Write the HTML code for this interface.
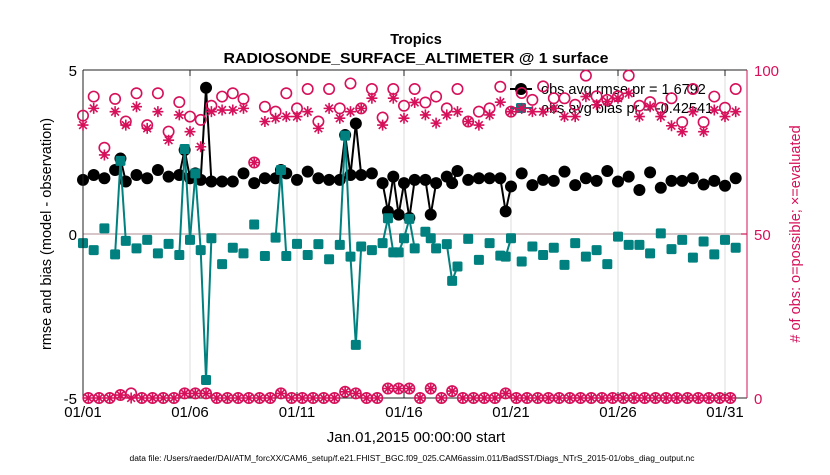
<!DOCTYPE html>
<html><head><meta charset="utf-8"><style>
body{margin:0;background:#fff;}
svg text{font-family:"Liberation Sans",Arial,sans-serif;}
</style></head><body>
<svg id="chart" width="830" height="470" xmlns="http://www.w3.org/2000/svg">
<rect x="0" y="0" width="830" height="470" fill="#fff"/>
<g id="grid"></g>
<g id="marks"></g>
<g id="axes"></g>
<text x="416" y="44" text-anchor="middle" font-size="14.5" font-weight="bold">Tropics</text>
<text x="416" y="63" text-anchor="middle" font-size="14.5" font-weight="bold" textLength="385" lengthAdjust="spacingAndGlyphs">RADIOSONDE_SURFACE_ALTIMETER @ 1 surface</text>
<text x="416" y="442" text-anchor="middle" font-size="15">Jan.01,2015 00:00:00 start</text>
<text transform="translate(51,234) rotate(-90)" text-anchor="middle" font-size="14.5">rmse and bias (model - observation)</text>
<text transform="translate(800,234) rotate(-90)" text-anchor="middle" font-size="14.5" fill="#d6105a"># of obs: o=possible; ×=evaluated</text>
<text x="412" y="461" text-anchor="middle" font-size="8" textLength="565" lengthAdjust="spacingAndGlyphs">data file: /Users/raeder/DAI/ATM_forcXX/CAM6_setup/f.e21.FHIST_BGC.f09_025.CAM6assim.011/BadSST/Diags_NTrS_2015-01/obs_diag_output.nc</text>
<g id="legend"></g>
<g id="pinkmarks"></g>
</svg>
<script>
const times = [0,2,4,6,7,8,10,12,14,16,18,19,20,21,22,23,24,26,28,30,32,34,36,37,38,40,42,44,46,48,49,50,51,52,54,56,57,58,59,60,61,62,64,65,66,68,69,70,72,74,76,78,79,80,82,84,86,88,90,92,94,96,98,100,102,104,106,108,110,112,114,116,118,120,122];
const rmse = [1.65,1.8,1.7,1.95,2.3,1.6,1.8,1.7,1.95,1.75,1.8,2.56,1.7,1.85,1.65,4.46,1.6,1.6,1.6,1.85,1.55,1.7,1.7,1.95,1.85,1.65,1.9,1.7,1.65,1.65,3.02,1.8,3.37,1.8,1.85,1.55,0.69,1.75,0.59,1.55,0.49,1.65,1.65,0.59,1.55,1.75,1.55,1.92,1.65,1.7,1.7,1.7,0.69,1.45,1.85,1.49,1.65,1.62,1.9,1.49,1.7,1.62,1.92,1.6,1.75,1.34,1.88,1.41,1.62,1.62,1.7,1.51,1.62,1.47,1.7];
const bias = [-0.28,-0.49,0.17,-0.62,2.23,-0.21,-0.44,-0.18,-0.59,-0.30,-0.64,2.59,-0.18,1.85,-0.49,-4.45,-0.13,-0.92,-0.42,-0.59,0.29,-0.67,-0.11,1.95,-0.67,-0.30,-0.64,-0.31,-0.77,-0.33,3.0,-0.69,-3.38,-0.38,-0.49,-0.28,0.48,-0.56,-0.56,-0.13,0.46,-0.44,0.07,-0.13,-0.44,-0.31,-1.43,-0.99,-0.15,-0.79,-0.28,-0.66,-0.69,-0.13,-0.84,-0.38,-0.64,-0.42,-0.94,-0.28,-0.69,-0.49,-0.92,-0.08,-0.33,-0.33,-0.59,0.02,-0.46,-0.18,-0.72,-0.23,-0.62,-0.18,-0.42];
const possible = [86.1,0,91.9,0,76.3,0,91.2,0.9,84.3,1.4,92.9,0,83.2,0,92.9,0,81.2,0,90.2,1.4,85.8,1.4,84.8,1.4,89.1,0,91.9,0,92.9,0,91.2,0,71.8,0,88.8,0,87.3,1.4,92.9,0,88.3,0,94.2,0,84.3,0,94.2,0,88.3,1.9,95.9,1.4,88.3,0,94.2,0,85.5,2.9,94.2,2.9,89.1,2.9,94.2,0,90.1,2.9,91.9,0,88.3,2.1,94.2,0,84.3,0,87.3,0,88.3,0,94.9,1.4,87.3,0,93,0,90.9,0,95,0,91.4,0,91.4,0,89.4,0,98.3,0,92,0,90.9,0,92,0,98.3,0,89.1,0,90.2,0,88.5,0,91.4,0,84.1,0,94.2,0,84.1,0,91.9,0,88.5,0,94.2];
const evaluated = [83.2,0,88.3,0,74.1,0,87.3,0.9,83.2,0,88.8,0,82.2,0,87.3,0,78.6,0,86.3,1.4,81.2,1.4,76.6,1.4,87.3,0,87.8,0,87.8,0,88.3,0,71.8,0,84.3,0,85.3,1.4,85.8,0,85.8,0,87.3,0,82.2,0,88.3,0,85.3,1.9,87.3,1.4,88.3,0,91.4,0,83.2,2.9,91.4,2.9,85.3,2.9,90.1,0,86.3,2.9,83.8,0,86.3,2.1,87.3,0,84.3,0,83.2,0,86.3,0,90.2,1.4,87.3,0,88.3,0,87.3,0,87.3,0,88.3,0,85.8,0,85.8,0,91.9,0,89.4,0,90.4,0,91.4,0,92.9,0,85.8,0,88.8,0,85.8,0,83,0,81.2,0,87.3,0,81.2,0,87.8,0,85.8,0,87.3];
const xTickLabels = ["01/01","01/06","01/11","01/16","01/21","01/26","01/31"];
const xTickDays = [0,5,10,15,20,25,30];
const yLeftTicks = [-5,0,5];
const yRightTicks = [0,50,100];

const NS="http://www.w3.org/2000/svg";
const L=83,R=747,T=70,B=398;
const PINK="#d6105a",TEAL="#00807e";
const xDay=d=>L+d*21.4;
const xK=k=>xDay(k/4);
const yL=v=>B-(v+5)/10*(B-T);
const yR=v=>B-v/100*(B-T);
function mk(tag,attrs,parent){const e=document.createElementNS(NS,tag);for(const a in attrs)e.setAttribute(a,attrs[a]);parent.appendChild(e);return e;}
const grid=document.getElementById('grid'),axes=document.getElementById('axes'),marks=document.getElementById('marks'),pm=document.getElementById('pinkmarks'),leg=document.getElementById('legend');

xTickDays.forEach((d,i)=>{
  const x=xDay(d);
  const g=mk('line',{x1:x,x2:x,y1:T,y2:B,stroke:'#dcdcdc','stroke-width':1},grid);
  
  
  const t1=mk('line',{x1:x,x2:x,y1:T,y2:T+6,stroke:'#222','stroke-width':1},axes);
  
  
  const t2=mk('line',{x1:x,x2:x,y1:B,y2:B-6,stroke:'#222','stroke-width':1},axes);
  
  
  const tx=mk('text',{x:x,y:B+19,'text-anchor':'middle','font-size':15},axes);
  tx.textContent=xTickLabels[i];
  
  
});
const zl=mk('line',{x1:L,x2:R,y1:yL(0),y2:yL(0),stroke:'#c8b4b8','stroke-width':1.5},grid);


yLeftTicks.forEach(v=>{
  const t=mk('text',{x:L-6,y:yL(v)+6,'text-anchor':'end','font-size':15},axes);
  t.textContent=v;
  
  
});
yRightTicks.forEach(v=>{
  const t=mk('text',{x:R+7,y:yR(v)+6,'font-size':15,fill:PINK},axes);
  t.textContent=v;
  
  
  const tk=mk('line',{x1:R,x2:R-6,y1:yR(v),y2:yR(v),stroke:PINK},axes);
  
  
});
const ax1=mk('path',{d:`M${L},${T}H${R}M${L},${T}V${B}H${R}`,fill:'none',stroke:'#222','stroke-width':1},axes);


const ax2=mk('line',{x1:R,x2:R,y1:T,y2:B,stroke:PINK,'stroke-width':1},axes);



function drawSeries(vals,color,kind,name){
  for(let i=1;i<times.length;i++){
    if(times[i]-times[i-1]===1){
      const ln=mk('line',{x1:xK(times[i-1]),y1:yL(vals[i-1]),x2:xK(times[i]),y2:yL(vals[i]),stroke:color,'stroke-width':2},marks);
      
      
    }
  }
  times.forEach((k,i)=>{
    let m;
    if(kind==='circle') m=mk('circle',{cx:xK(k),cy:yL(vals[i]),r:6,fill:color},marks);
    else m=mk('rect',{x:xK(k)-5,y:yL(vals[i])-5,width:10,height:10,rx:1.5,fill:color},marks);
    
    
  });
}
drawSeries(rmse,'#000','circle','rmse');
drawSeries(bias,TEAL,'square','bias');

function legRow(y,color,kind,label,name){
  const ln=mk('line',{x1:510,x2:532,y1:y,y2:y,stroke:color,'stroke-width':2},leg);
  
  
  let m;
  if(kind==='circle') m=mk('circle',{cx:521,cy:y,r:6,fill:color},leg);
  else m=mk('rect',{x:516,y:y-5,width:10,height:10,rx:1.5,fill:color},leg);
  
  
  const t=mk('text',{x:541,y:y+5,'font-size':14.5},leg);
  t.textContent=label;
  
  
}
legRow(89,'#000','circle','obs avg rmse pr = 1.6792','rmse');
legRow(108,TEAL,'square','obs avg bias pr = -0.42541','bias');

possible.forEach((v,k)=>{
  const c=mk('circle',{cx:xK(k),cy:yR(v),r:5.2,fill:'none',stroke:PINK,'stroke-width':1.6},pm);
  
  
});
evaluated.forEach((v,k)=>{
  const x=xK(k),y=yR(v),s=5.5;
  const d=`M${x-s},${y}H${x+s}M${x},${y-s}V${y+s}M${x-s*0.7},${y-s*0.7}L${x+s*0.7},${y+s*0.7}M${x-s*0.7},${y+s*0.7}L${x+s*0.7},${y-s*0.7}`;
  const p=mk('path',{d:d,stroke:PINK,'stroke-width':1.6,fill:'none'},pm);
  
  
});
</script>
</body></html>
